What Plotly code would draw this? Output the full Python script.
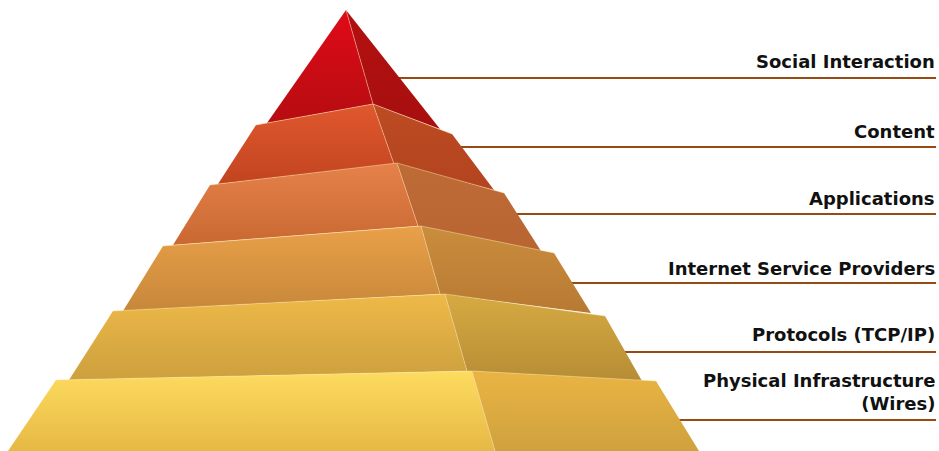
import plotly.graph_objects as go

# Layer labels (top to bottom)
labels = ["Social Interaction", "Content", "Applications",
          "Internet Service Providers", "Protocols (TCP/IP)",
          "Physical Infrastructure<br>(Wires)"]

# Pyramid layer corners: top-left, ridge-top, top-right, bottom-left, ridge-bottom, bottom-right
top_left = [(346, 10), (256, 125), (210, 185), (163, 246), (113, 311), (56, 380)]
ridge_top = [(346, 10), (373, 104), (397, 163), (421, 226), (445, 294), (472, 371)]
top_right = [(346, 10), (452, 134), (504, 193), (554, 253), (605, 316), (656, 381)]
bot_left = [(267, 123), (218, 184), (173, 245), (123, 311), (69, 380), (8, 451)]
ridge_bot = [(373, 104), (394, 164), (418, 226), (440, 294), (467, 371), (495, 451)]
bot_right = [(440, 129), (494, 190), (541, 251), (591, 313), (642, 381), (699, 451)]

front_colors = [("#e00a18", "#b30d10"), ("#e0582e", "#bf431f"), ("#e6814a", "#c6672f"),
                ("#e9a048", "#c6873a"), ("#eeb948", "#cca03e"), ("#fddc5f", "#e6b845")]
side_colors = [("#b21010", "#a80f0f"), ("#bd4b23", "#b3441f"), ("#be6b36", "#b86532"),
               ("#ca8d3d", "#b87a33"), ("#d6aa42", "#b68d35"), ("#e9b443", "#cfa23e")]

# Label line y positions and label centres
line_y = [78, 147, 214, 283, 352, 420]
label_y = [61, 131, 198, 268, 334, 392]
line_x0 = [400, 470, 518, 572, 625, 680]

fig = go.Figure()

for i in range(6):
    fig.add_trace(go.Scatter(x=[line_x0[i] - 40, 936], y=[line_y[i], line_y[i]], mode="lines",
                             line=dict(color="#974a12", width=2), hoverinfo="skip"))

for i in range(6):
    ytop = min(top_left[i][1], ridge_top[i][1])
    ybot = max(bot_left[i][1], bot_right[i][1])
    fx = [top_left[i][0], ridge_top[i][0], ridge_bot[i][0], bot_left[i][0], top_left[i][0]]
    fy = [top_left[i][1], ridge_top[i][1], ridge_bot[i][1], bot_left[i][1], top_left[i][1]]
    fig.add_trace(go.Scatter(x=fx, y=fy, mode="lines", fill="toself", line=dict(width=0),
                             fillgradient=dict(type="vertical",
                                               colorscale=[[0, front_colors[i][0]], [1, front_colors[i][1]]],
                                               start=ytop, stop=ybot),
                             hoverinfo="skip"))
    sx = [ridge_top[i][0], top_right[i][0], bot_right[i][0], ridge_bot[i][0], ridge_top[i][0]]
    sy = [ridge_top[i][1], top_right[i][1], bot_right[i][1], ridge_bot[i][1], ridge_top[i][1]]
    fig.add_trace(go.Scatter(x=sx, y=sy, mode="lines", fill="toself", line=dict(width=0),
                             fillgradient=dict(type="vertical",
                                               colorscale=[[0, side_colors[i][0]], [1, side_colors[i][1]]],
                                               start=ytop, stop=ybot),
                             hoverinfo="skip"))
    # highlight edges
    fig.add_trace(go.Scatter(x=[top_left[i][0], ridge_top[i][0], top_right[i][0]],
                             y=[top_left[i][1], ridge_top[i][1], top_right[i][1]],
                             mode="lines", line=dict(color="rgba(255,235,180,0.45)", width=1),
                             hoverinfo="skip"))
    fig.add_trace(go.Scatter(x=[ridge_top[i][0], ridge_bot[i][0]],
                             y=[ridge_top[i][1], ridge_bot[i][1]],
                             mode="lines", line=dict(color="rgba(255,220,180,0.45)", width=1),
                             hoverinfo="skip"))

for i, lab in enumerate(labels):
    fig.add_annotation(x=937, y=label_y[i], text="<b>" + lab + "</b>", showarrow=False,
                       xanchor="right", yanchor="middle", align="right",
                       font=dict(family="DejaVu Sans", size=18, color="#111111"))

fig.update_layout(width=939, height=451, margin=dict(l=0, r=0, t=0, b=0),
                  paper_bgcolor="white", plot_bgcolor="white", showlegend=False,
                  xaxis=dict(range=[0, 939], visible=False, fixedrange=True),
                  yaxis=dict(range=[451, 0], visible=False, fixedrange=True))

fig.write_html("out.html")
